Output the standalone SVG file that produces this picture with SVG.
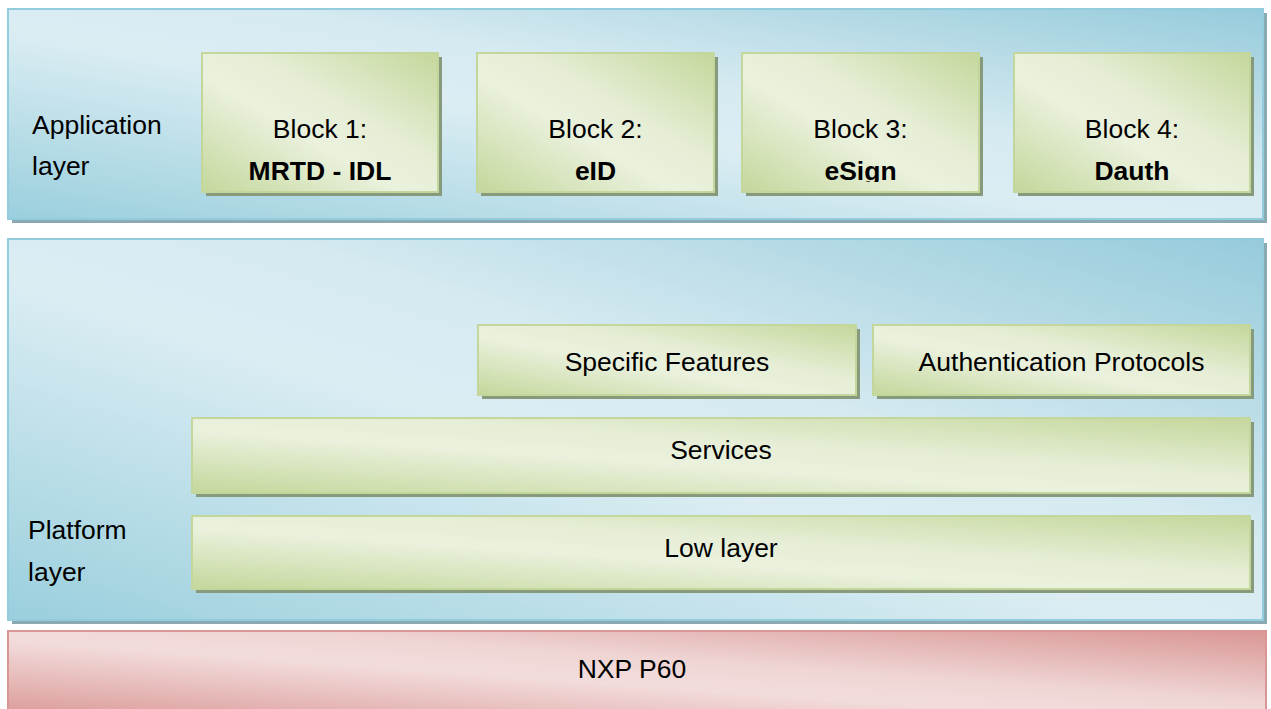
<svg xmlns="http://www.w3.org/2000/svg" width="1271" height="709" viewBox="0 0 1271 709">
  <defs>
    <linearGradient id="gBlue" x1="0" y1="1" x2="1" y2="0">
      <stop offset="0" stop-color="#9acfdd"/>
      <stop offset="0.45" stop-color="#dbedf3"/>
      <stop offset="0.6" stop-color="#d6eaf1"/>
      <stop offset="1" stop-color="#96cbdb"/>
    </linearGradient>
    <linearGradient id="gGreen" x1="0" y1="1" x2="1" y2="0">
      <stop offset="0" stop-color="#c4d79b"/>
      <stop offset="0.42" stop-color="#eaf1dd"/>
      <stop offset="0.6" stop-color="#e6eed6"/>
      <stop offset="1" stop-color="#c4d79b"/>
    </linearGradient>
    <linearGradient id="gRed" x1="0" y1="1" x2="1" y2="0">
      <stop offset="0" stop-color="#d99694"/>
      <stop offset="0.45" stop-color="#f2dcdb"/>
      <stop offset="0.6" stop-color="#efd6d5"/>
      <stop offset="1" stop-color="#d99694"/>
    </linearGradient>
    <clipPath id="clipB3"><rect x="742" y="53" width="237" height="129"/></clipPath>
  </defs>
  <style>
    .panel { fill: url(#gBlue); stroke: #93cddd; stroke-width: 2; }
    .pshadow { fill: #8aa9b3; }
    .box { fill: url(#gGreen); stroke: #c3d69b; stroke-width: 2; }
    .bshadow { fill: #879b7c; }
    .chip { fill: url(#gRed); stroke: #d99694; stroke-width: 2; }
    .t { font-family: "Liberation Sans", Arial, sans-serif; font-size: 26.5px; fill: #000; }
    .c { text-anchor: middle; }
    .b { font-weight: bold; }
  </style>

  <g id="application-layer">
    <rect class="pshadow" x="12" y="13" width="1255" height="210"/>
    <rect class="panel" x="8" y="9" width="1255" height="210"/>
    <text class="t" x="32" y="134">Application</text>
    <text class="t" x="32" y="175">layer</text>
  </g>

  <g id="block1">
    <rect class="bshadow" x="206" y="57" width="236" height="139"/>
    <rect class="box" x="202" y="53" width="236" height="139"/>
    <text class="t c" x="320" y="138">Block 1:</text>
    <text class="t c b" x="320" y="180">MRTD - IDL</text>
  </g>

  <g id="block2">
    <rect class="bshadow" x="481" y="57" width="237" height="139"/>
    <rect class="box" x="477" y="53" width="237" height="139"/>
    <text class="t c" x="595.5" y="138">Block 2:</text>
    <text class="t c b" x="595.5" y="180">eID</text>
  </g>

  <g id="block3">
    <rect class="bshadow" x="746" y="57" width="237" height="139"/>
    <rect class="box" x="742" y="53" width="237" height="139"/>
    <text class="t c" x="860.5" y="138">Block 3:</text>
    <text class="t c b" x="860.5" y="180" clip-path="url(#clipB3)">eSign</text>
  </g>

  <g id="block4">
    <rect class="bshadow" x="1018" y="57" width="236" height="139"/>
    <rect class="box" x="1014" y="53" width="236" height="139"/>
    <text class="t c" x="1132" y="138">Block 4:</text>
    <text class="t c b" x="1132" y="180">Dauth</text>
  </g>

  <g id="platform-layer">
    <rect class="pshadow" x="12" y="243" width="1255" height="381"/>
    <rect class="panel" x="8" y="239" width="1255" height="381"/>
    <text class="t" x="28" y="539">Platform</text>
    <text class="t" x="28" y="581">layer</text>
  </g>

  <g id="specific-features">
    <rect class="bshadow" x="482" y="329" width="378" height="70"/>
    <rect class="box" x="478" y="325" width="378" height="70"/>
    <text class="t c" x="667" y="371">Specific Features</text>
  </g>

  <g id="authentication-protocols">
    <rect class="bshadow" x="877" y="329" width="377" height="70"/>
    <rect class="box" x="873" y="325" width="377" height="70"/>
    <text class="t c" x="1061.5" y="371">Authentication Protocols</text>
  </g>

  <g id="services">
    <rect class="bshadow" x="196" y="422" width="1058" height="75"/>
    <rect class="box" x="192" y="418" width="1058" height="75"/>
    <text class="t c" x="721" y="459">Services</text>
  </g>

  <g id="low-layer">
    <rect class="bshadow" x="196" y="520" width="1058" height="73"/>
    <rect class="box" x="192" y="516" width="1058" height="73"/>
    <text class="t c" x="721" y="557">Low layer</text>
  </g>

  <g id="nxp-p60">
    <rect class="chip" x="8" y="631" width="1258" height="90"/>
    <text class="t c" x="632" y="678">NXP P60</text>
  </g>

  <g id="connectors"/>
</svg>
